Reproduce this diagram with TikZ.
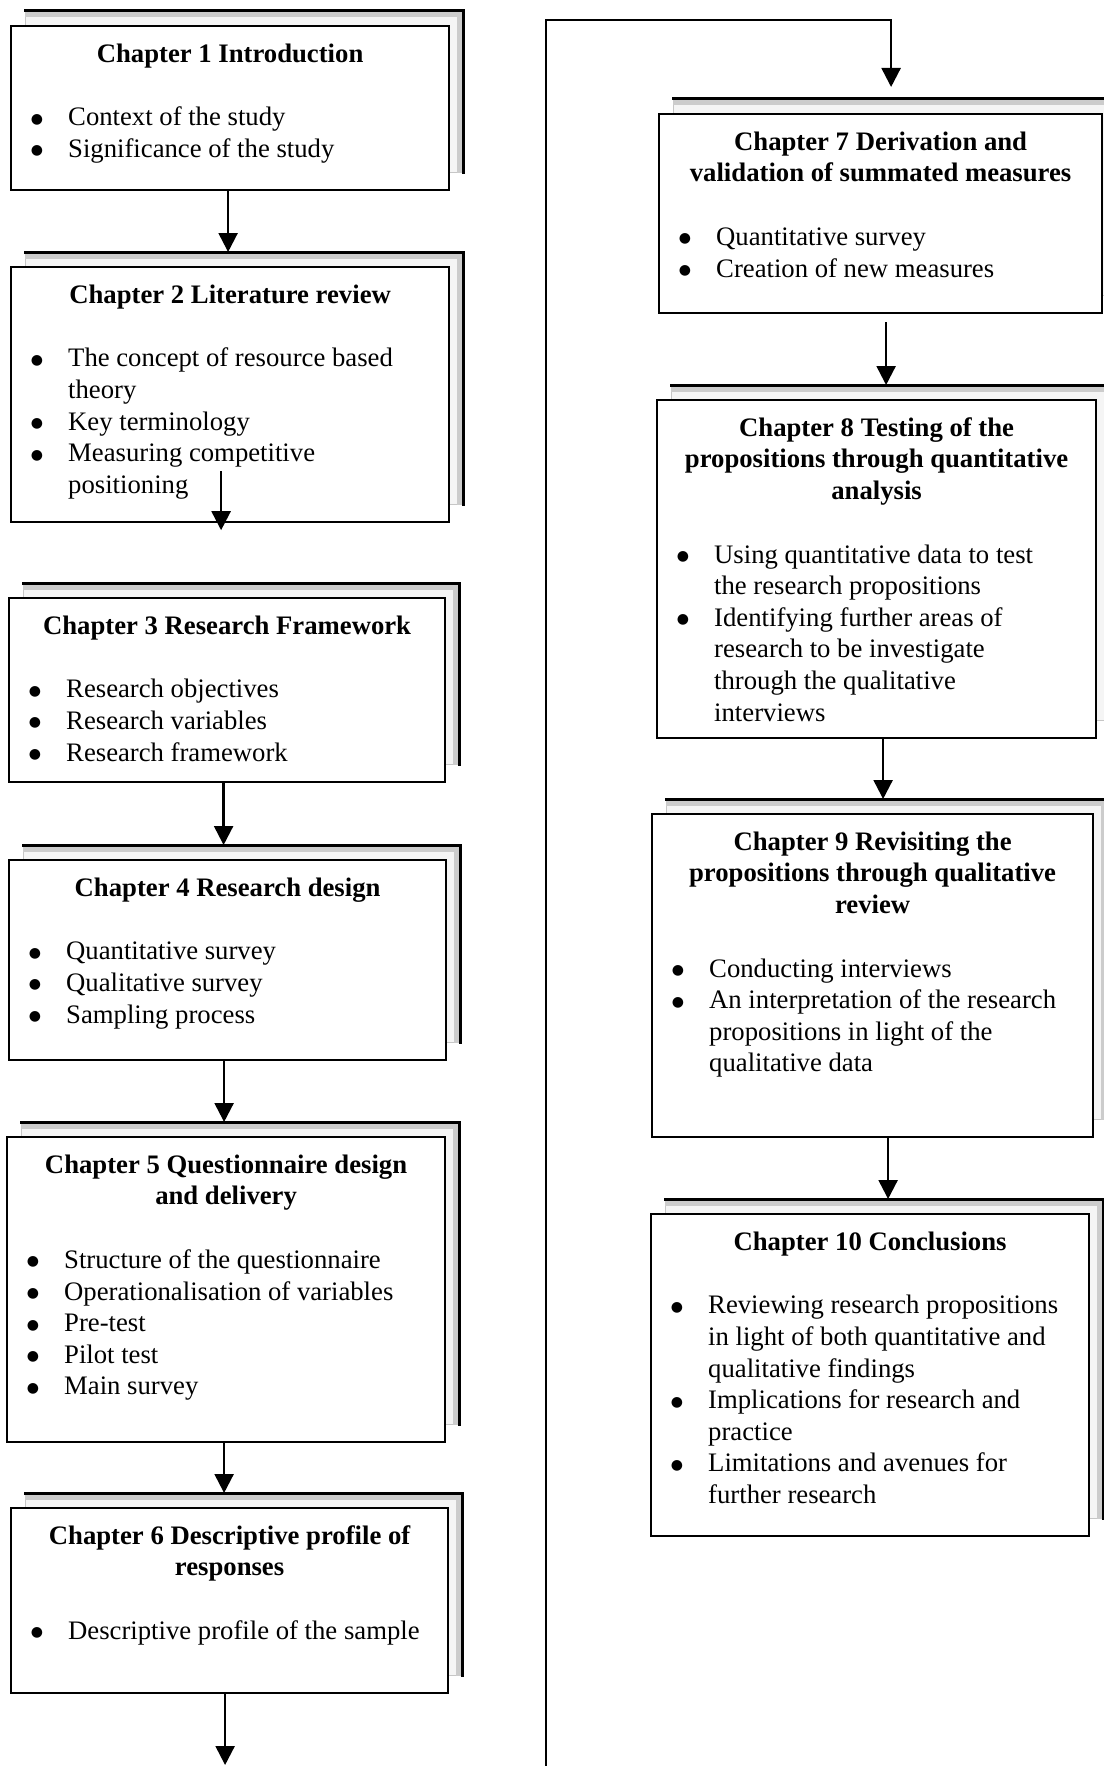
\documentclass[tikz,border=0pt]{standalone}
\usepackage{fontspec}
\setmainfont{Liberation Serif}
\newfontfamily\bulletfont{DejaVu Sans}
\usetikzlibrary{arrows.meta,calc}

% bullet and continuation indent for the item lists
\newcommand{\bu}{\strut\makebox[40pt][l]{\hspace{2.6pt}\raisebox{2.5pt}{\fontsize{14}{14}\bulletfont\symbol{"25CF}}}}
\newcommand{\ind}{\strut\hspace*{40pt}}

% a chapter sheet: the sheet stacked behind (name+s), then the front sheet (name)
% #1 name, #2 left, #3 top, #4 right, #5 bottom (y grows downwards)
\newcommand{\chapterbox}[5]{%
  \node[backbox, minimum width={#4-#2}, minimum height={#5-#3-3}] (#1s) at (#2+15,#3-14) {};
  \draw[grain] ($(#1s.north west)+(0,4)$) -- ($(#1s.north east)+(-4,4)$) -- ($(#1s.south east)+(-4,0)$);
  \draw[sheetedge] (#1s.north west) -- (#1s.north east) -- (#1s.south east);
  \node[frontbox, minimum width={#4-#2}, minimum height={#5-#3}] (#1) at (#2,#3) {};
}

\begin{document}
\begin{tikzpicture}[x=1pt, y=-1pt,
  frontbox/.style={draw, line width=2.2pt, fill=white, inner sep=0pt, anchor=north west},
  backbox/.style={draw=gray!45, line width=0.8pt, fill=gray!8, inner sep=0pt, anchor=north west},
  grain/.style={line width=5pt, gray!40},
  sheetedge/.style={line width=3pt, line cap=rect, line join=miter},
  chaptitle/.style={font=\fontsize{26.7}{31.6}\selectfont\bfseries, align=center, inner sep=0pt, anchor=north},
  bullets/.style={font=\fontsize{26.7}{31.6}\selectfont, align=left, inner sep=0pt, anchor=north west},
  flow/.style={line width=2.4pt, -{Triangle[length=19pt,width=19pt]}},
  link/.style={line width=2.4pt}
]
\useasboundingbox[fill=white] (0,0) rectangle (1103,1766);

% ---------- left column ----------
\chapterbox{b1}{10}{25}{448}{189}
\node[chaptitle] (b1t) at ($(b1.north)+(0,14.9)$) {\strut Chapter 1 Introduction};
\node[bullets] (b1i) at ($(b1t.south -| b1.west)+(18,31.6)$)
  {\bu Context of the study\\\bu Significance of the study};

\chapterbox{b2}{10}{266}{448}{521}
\node[chaptitle] (b2t) at ($(b2.north)+(0,14.9)$) {\strut Chapter 2 Literature review};
\node[bullets] (b2i) at ($(b2t.south -| b2.west)+(18,31.6)$)
  {\bu The concept of resource based\\\ind theory\\\bu Key terminology\\\bu Measuring competitive\\\ind positioning};

\chapterbox{b3}{8}{597}{444}{781}
\node[chaptitle] (b3t) at ($(b3.north)+(0,14.9)$) {\strut Chapter 3 Research Framework};
\node[bullets] (b3i) at ($(b3t.south -| b3.west)+(18,31.6)$)
  {\bu Research objectives\\\bu Research variables\\\bu Research framework};

\chapterbox{b4}{8}{859}{445}{1059}
\node[chaptitle] (b4t) at ($(b4.north)+(0,14.9)$) {\strut Chapter 4 Research design};
\node[bullets] (b4i) at ($(b4t.south -| b4.west)+(18,31.6)$)
  {\bu Quantitative survey\\\bu Qualitative survey\\\bu Sampling process};

\chapterbox{b5}{6}{1136}{444}{1441}
\node[chaptitle] (b5t) at ($(b5.north)+(0,14.9)$) {\strut Chapter 5 Questionnaire design\\\strut and delivery};
\node[bullets] (b5i) at ($(b5t.south -| b5.west)+(18,31.6)$)
  {\bu Structure of the questionnaire\\\bu Operationalisation of variables\\\bu Pre-test\\\bu Pilot test\\\bu Main survey};

\chapterbox{b6}{10}{1507}{447}{1692}
\node[chaptitle] (b6t) at ($(b6.north)+(0,14.9)$) {\strut Chapter 6 Descriptive profile of\\\strut responses};
\node[bullets] (b6i) at ($(b6t.south -| b6.west)+(18,31.6)$)
  {\bu Descriptive profile of the sample};

% ---------- right column ----------
\chapterbox{b7}{658}{113}{1101}{312}
\node[chaptitle] (b7t) at ($(b7.north)+(0,14.9)$) {\strut Chapter 7 Derivation and\\\strut validation of summated measures};
\node[bullets] (b7i) at ($(b7t.south -| b7.west)+(18,31.6)$)
  {\bu Quantitative survey\\\bu Creation of new measures};

\chapterbox{b8}{656}{399}{1095}{737}
\node[chaptitle] (b8t) at ($(b8.north)+(0,14.9)$) {\strut Chapter 8 Testing of the\\\strut propositions through quantitative\\\strut analysis};
\node[bullets] (b8i) at ($(b8t.south -| b8.west)+(18,31.6)$)
  {\bu Using quantitative data to test\\\ind the research propositions\\\bu Identifying further areas of\\\ind research to be investigate\\\ind through the qualitative\\\ind interviews};

\chapterbox{b9}{651}{813}{1092}{1136}
\node[chaptitle] (b9t) at ($(b9.north)+(0,14.9)$) {\strut Chapter 9 Revisiting the\\\strut propositions through qualitative\\\strut review};
\node[bullets] (b9i) at ($(b9t.south -| b9.west)+(18,31.6)$)
  {\bu Conducting interviews\\\bu An interpretation of the research\\\ind propositions in light of the\\\ind qualitative data};

\chapterbox{b10}{650}{1213}{1088}{1535}
\node[chaptitle] (b10t) at ($(b10.north)+(0,14.9)$) {\strut Chapter 10 Conclusions};
\node[bullets] (b10i) at ($(b10t.south -| b10.west)+(18,31.6)$)
  {\bu Reviewing research propositions\\\ind in light of both quantitative and\\\ind qualitative findings\\\bu Implications for research and\\\ind practice\\\bu Limitations and avenues for\\\ind further research};

% ---------- connectors ----------
\coordinate (pagefoot) at (0,1765);
\coordinate (loopfoot) at (546,1766);
\coordinate (looptop) at (546,20);

\draw[flow] ($(b1.south)+(-2,0)$) -- ($(b1.south |- b2s.north)+(-2,0)$);
\draw[flow] ($(b2.south)+(-9,-52)$) -- ($(b2.south)+(-9,7)$);
\draw[flow] ($(b3.south)+(-3.5,0)$) -- ($(b3.south |- b4s.north)+(-3.5,0)$);
\draw[flow] ($(b4.south)+(-3.5,0)$) -- ($(b4.south |- b5s.north)+(-3.5,0)$);
\draw[flow] ($(b5.south)+(-2,0)$) -- ($(b5.south |- b6s.north)+(-2,0)$);
\draw[flow] ($(b6.south)+(-4.5,0)$) -- ($(b6.south |- pagefoot)+(-4.5,0)$);

\draw[flow] (loopfoot) -- (looptop) -| ($(b7.north |- b7s.north)+(10.5,-12)$);
\draw[flow] ($(b7.south)+(5.5,8)$) -- ($(b7.south |- b8s.north)+(5.5,0)$);
\draw[flow] ($(b8.south)+(6.5,0)$) -- ($(b8.south |- b9s.north)+(6.5,0)$);
\draw[flow] ($(b9.south)+(15.5,0)$) -- ($(b9.south |- b10s.north)+(15.5,0)$);
\end{tikzpicture}
\end{document}
